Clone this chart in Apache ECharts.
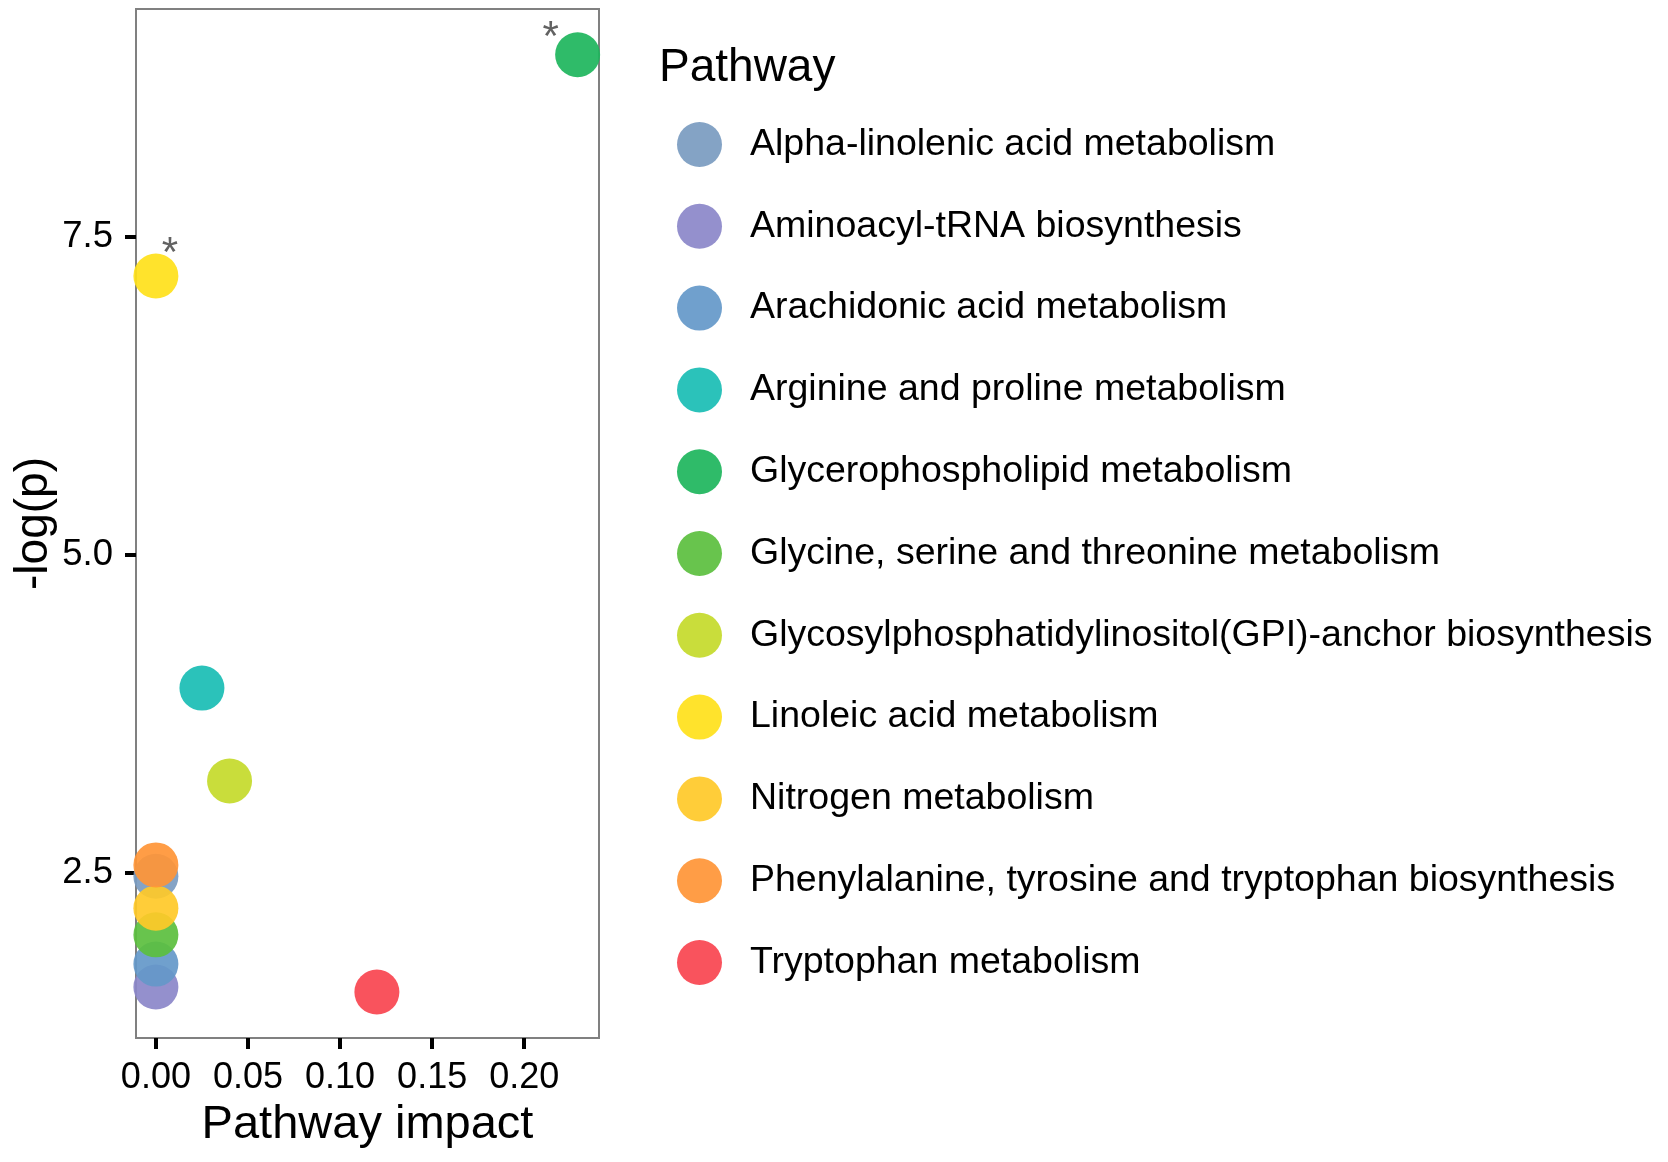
<!DOCTYPE html>
<html>
<head>
<meta charset="utf-8">
<script src="https://cdn.jsdelivr.net/npm/echarts@6/dist/echarts.min.js"></script>
<style>
  html, body { margin: 0; padding: 0; background: #ffffff; }
  #chart { width: 1668px; height: 1162px; }
</style>
</head>
<body>
<div id="chart"></div>
<script>
// ---- data ----
const pathways = [
  'Alpha-linolenic acid metabolism',
  'Aminoacyl-tRNA biosynthesis',
  'Arachidonic acid metabolism',
  'Arginine and proline metabolism',
  'Glycerophospholipid metabolism',
  'Glycine, serine and threonine metabolism',
  'Glycosylphosphatidylinositol(GPI)-anchor biosynthesis',
  'Linoleic acid metabolism',
  'Nitrogen metabolism',
  'Phenylalanine, tyrosine and tryptophan biosynthesis',
  'Tryptophan metabolism'
];
const impact   = [0, 0, 0, 0.025, 0.229, 0, 0.040, 0, 0, 0, 0.120];
const negLogP  = [2.47, 1.60, 1.78, 3.95, 8.93, 2.01, 3.22, 7.19, 2.22, 2.56, 1.56];
const significant = [false, false, false, false, true, false, false, true, false, false, false];
const colors = ['#7a9bc0', '#8b87c9', '#6498c9', '#19bdb4', '#1db55c', '#5bbf3e',
                '#c4da2a', '#ffe11a', '#ffc928', '#ff9536', '#f8444f'];
const xTicks = [0, 0.05, 0.10, 0.15, 0.20];
const yTicks = [2.5, 5.0, 7.5];
const xRange = [-0.0108, 0.2406];
const yRange = [1.199, 9.289];

const FONT = 'Liberation Sans, Arial, sans-serif';
const starOffsets = { 4: [-27, -16], 7: [14, -22] };

const series = pathways.map((name, i) => ({
  name: name,
  type: 'scatter',
  clip: true,
  symbol: 'circle',
  symbolSize: 45,
  itemStyle: { color: colors[i], opacity: 0.92 },
  emphasis: { disabled: true },
  data: [{
    value: [impact[i], negLogP[i]],
    label: significant[i] ? {
      show: true,
      formatter: '*',
      position: 'inside',
      offset: starOffsets[i],
      color: '#555555',
      fontSize: 42,
      fontFamily: FONT
    } : { show: false }
  }]
}));

const chart = echarts.init(document.getElementById('chart'), null, { renderer: 'canvas' });
chart.setOption({
  animation: false,
  backgroundColor: '#ffffff',
  title: {
    text: 'Pathway',
    left: 654,
    top: 40,
    textStyle: { fontFamily: FONT, fontSize: 46, fontWeight: 'normal', color: '#000' }
  },
  legend: {
    orient: 'vertical',
    left: 672,
    top: 117,
    icon: 'circle',
    itemWidth: 45,
    itemHeight: 45,
    itemGap: 36.8,
    selectedMode: false,
    data: pathways,
    textStyle: { fontFamily: FONT, fontSize: 37.5, color: '#000', padding: [0, 0, 0, 23] }
  },
  grid: {
    left: 136, right: 1668 - 599, top: 9, bottom: 1162 - 1038,
    show: true, borderColor: '#808080', borderWidth: 2, backgroundColor: 'transparent'
  },
  xAxis: {
    type: 'value',
    min: xRange[0], max: xRange[1],
    name: 'Pathway impact',
    nameLocation: 'middle',
    nameGap: 64,
    nameTextStyle: { fontFamily: FONT, fontSize: 47, color: '#000' },
    axisLine: { show: false, onZero: false },
    splitLine: { show: false },
    axisTick: { show: true, length: 11, customValues: xTicks, lineStyle: { color: '#000', width: 4 } },
    axisLabel: {
      customValues: xTicks,
      formatter: v => v.toFixed(2),
      fontFamily: FONT, fontSize: 36, color: '#000', margin: 22
    }
  },
  yAxis: {
    type: 'value',
    min: yRange[0], max: yRange[1],
    name: '-log(p)',
    nameLocation: 'middle',
    nameGap: 79,
    nameTextStyle: { fontFamily: FONT, fontSize: 46, color: '#000' },
    axisLine: { show: false, onZero: false },
    splitLine: { show: false },
    axisTick: { show: true, length: 11, customValues: yTicks, lineStyle: { color: '#000', width: 4 } },
    axisLabel: {
      customValues: yTicks,
      formatter: v => v.toFixed(1),
      fontFamily: FONT, fontSize: 36.5, color: '#000', margin: 23
    }
  },
  series: series
});
</script>
</body>
</html>
